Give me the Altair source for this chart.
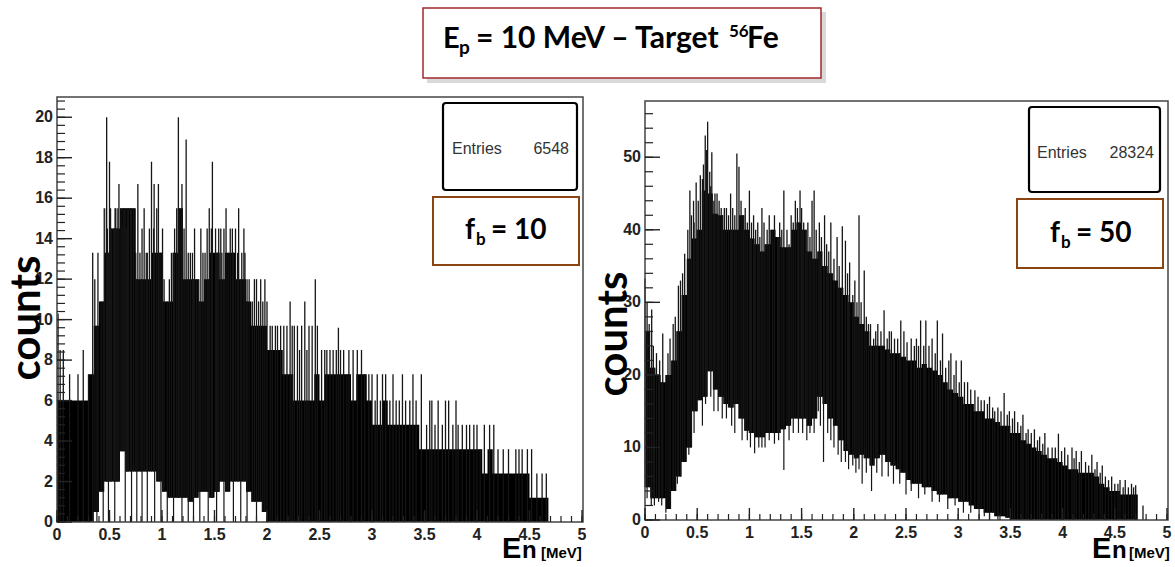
import altair as alt
import pandas as pd

# ---------------- data ----------------
BIN_E = [0.00, 0.05, 0.10, 0.15, 0.20, 0.25, 0.30, 0.35, 0.40, 0.45,
         0.50, 0.55, 0.60, 0.65, 0.70, 0.75, 0.80, 0.85, 0.90, 0.95,
         1.00, 1.05, 1.10, 1.15, 1.20, 1.25, 1.30, 1.35, 1.40, 1.45,
         1.50, 1.55, 1.60, 1.65, 1.70, 1.75, 1.80, 1.85, 1.90, 1.95,
         2.00, 2.05, 2.10, 2.15, 2.20, 2.25, 2.30, 2.35, 2.40, 2.45,
         2.50, 2.55, 2.60, 2.65, 2.70, 2.75, 2.80, 2.85, 2.90, 2.95,
         3.00, 3.05, 3.10, 3.15, 3.20, 3.25, 3.30, 3.35, 3.40, 3.45,
         3.50, 3.55, 3.60, 3.65, 3.70, 3.75, 3.80, 3.85, 3.90, 3.95,
         4.00, 4.05, 4.10, 4.15, 4.20, 4.25, 4.30, 4.35, 4.40, 4.45,
         4.50, 4.55, 4.60, 4.65, 4.70]

# Left panel (f_b = 10): upper / lower envelope of the histogram band
L_END = 4.68
L_HI = [6, 6, 6, 6, 6, 6, 7.3, 9.7, 10.9, 13.3,
        14.5, 14.5, 15.5, 15.5, 15.5, 12, 12, 12, 13.3, 13.3,
        10.9, 10.9, 13.3, 15.5, 12, 12, 12, 10.9, 12, 13.3,
        13.3, 12, 13.3, 13.3, 12, 12, 10.9, 9.7, 9.7, 9.7,
        8.5, 8.5, 8.5, 7.3, 7.3, 6, 6, 6, 6, 7.3,
        6, 7.3, 7.3, 7.3, 7.3, 7.3, 6, 7.3, 7.3, 6,
        4.8, 4.8, 6, 4.8, 4.8, 4.8, 4.8, 4.8, 4.8, 3.6,
        3.6, 3.6, 3.6, 3.6, 3.6, 3.6, 3.6, 3.6, 3.6, 3.6,
        3.6, 2.4, 3.6, 2.4, 2.4, 2.4, 2.4, 2.4, 2.4, 2.4,
        1.2, 1.2, 1.2, 1.2]
L_LO = [0, 0, 0, 0, 0, 0, 0, 0.5, 1.5, 2,
        2, 2, 3.5, 2.5, 2.5, 2.5, 2.5, 2.5, 2.5, 2,
        1.5, 1.2, 1.2, 1.2, 1.2, 1, 1.2, 1.5, 1.5, 1.2,
        1.5, 2, 1.5, 2, 2, 2, 1.5, 1, 1, 0.5,
        0, 0, 0, 0, 0, 0, 0, 0, 0, 0,
        0, 0, 0, 0, 0, 0, 0, 0, 0, 0,
        0, 0, 0, 0, 0, 0, 0, 0, 0, 0,
        0, 0, 0, 0, 0, 0, 0, 0, 0, 0,
        0, 0, 0, 0, 0, 0, 0, 0, 0, 0,
        0, 0, 0, 0]
# tallest single bins (spikes above the band)
L_SPIKE_E = [0.01, 0.03, 0.06, 0.12, 0.20, 0.25, 0.30, 0.34, 0.36, 0.39,
             0.42, 0.45, 0.473, 0.50, 0.52, 0.553, 0.59, 0.64, 0.68, 0.73,
             0.77, 0.83, 0.86, 0.90, 0.925, 0.966, 1.005, 1.09, 1.156, 1.19,
             1.23, 1.27, 1.33, 1.37, 1.43, 1.45, 1.48, 1.54, 1.57, 1.61,
             1.63, 1.70, 1.73, 1.79, 1.83, 1.90, 1.94, 1.98, 2.03, 2.08,
             2.13, 2.19, 2.22, 2.24, 2.29, 2.33, 2.36, 2.40, 2.46, 2.48,
             2.57, 2.63, 2.68, 2.70, 2.78, 2.90, 3.00, 3.05, 3.10, 3.20,
             3.26, 3.32, 3.47, 3.57, 3.63, 3.73, 3.82, 3.90, 4.00, 4.07,
             4.16, 4.37, 4.43, 4.48, 4.52, 4.57, 4.62, 4.66]
L_SPIKE_TOP = [10.3, 8.5, 8.5, 7.3, 7.3, 8.5, 7.3, 13.3, 12, 13.3,
               10.9, 15.5, 20, 17.8, 14.5, 15.5, 16.7, 15.5, 15.5, 15.5,
               16.7, 15.5, 13.3, 17.8, 16.7, 16.7, 14.5, 13.3, 20, 16.7,
               18.9, 13.3, 12, 14.5, 14.5, 15.5, 17.8, 14.5, 13.3, 15.5,
               13.3, 14.5, 15.5, 13.3, 12, 12, 12, 12, 9.7, 9.7,
               9.7, 9.7, 10.9, 9.7, 9.7, 9.7, 10.9, 9.7, 12, 9.7,
               8.5, 8.5, 9.6, 8.5, 8.5, 8.5, 7.3, 7.3, 7.3, 7.3,
               6, 6, 7.3, 6, 6, 6, 4.8, 4.8, 4.8, 4.8,
               4.8, 3.6, 3.6, 3.6, 3.6, 2.4, 2.4, 2.4]
# other bins standing just above the band (the ragged top edge)
L_EDGE_E = [0.47, 0.48, 0.51, 0.54, 0.56, 0.57, 0.58, 0.61, 0.62, 0.63,
            0.66, 0.67, 0.70, 0.71, 0.75, 0.79, 0.81, 0.85, 0.88, 0.92,
            0.95, 0.98, 1.02, 1.07, 1.12, 1.14, 1.17, 1.21, 1.25, 1.29,
            1.31, 1.35, 1.39, 1.41, 1.47, 1.51, 1.53, 1.56, 1.59, 1.65,
            1.67, 1.68, 1.72, 1.76, 1.78, 1.81, 1.86, 1.88, 1.92, 1.96,
            2.00, 2.05, 2.10, 2.16, 2.26, 2.31, 2.38, 2.43, 2.52, 2.55,
            2.60, 2.66, 2.73, 2.76, 2.82, 2.86, 2.93, 2.97, 3.03, 3.08,
            3.13, 3.17, 3.23, 3.29, 3.36, 3.39, 3.42, 3.52, 3.55, 3.60,
            3.67, 3.70, 3.77, 3.80, 3.86, 3.93, 3.97, 4.03, 4.12, 4.20,
            4.25, 4.30, 4.40]
L_EDGE_TOP = [15.5, 14.5, 15.5, 14.5, 15.5, 14.5, 15.5, 15.5, 14.5, 15.5,
              14.5, 15.5, 15.5, 14.5, 13.3, 13.3, 14.5, 13.3, 14.5, 14.5,
              15.5, 13.3, 12, 12, 14.5, 15.5, 15.5, 14.5, 13.3, 13.3,
              14.5, 12, 13.3, 13.3, 14.5, 14.5, 13.3, 14.5, 14.5, 14.5,
              14.5, 13.3, 13.3, 13.3, 14.5, 12, 10.9, 12, 10.9, 10.9,
              10.9, 9.7, 9.7, 9.7, 9.7, 8.5, 8.5, 9.7, 8.5, 8.5,
              8.5, 8.5, 8.5, 7.3, 8.5, 8.5, 7.3, 7.3, 6, 6,
              7.3, 6, 6, 7.3, 6, 7.3, 6, 4.8, 6, 4.8,
              4.8, 6, 4.8, 6, 4.8, 4.8, 4.8, 3.6, 4.8, 3.6,
              3.6, 3.6, 3.6]
# bins dropping below the band into the white gap
L_DIP_E = [0.38, 0.44, 0.49, 0.55, 0.65, 0.71, 0.76, 0.81, 0.86, 0.93,
           0.99, 1.05, 1.11, 1.19, 1.25, 1.30, 1.36, 1.44, 1.52, 1.59,
           1.68, 1.75, 1.81, 1.90]
L_DIP_BOT = [0, 0, 0, 0, 0, 0, 0, 0, 0, 0,
             0, 0, 0, 0, 0, 0, 0, 0, 0, 0,
             0, 0, 0, 0]

# Right panel (f_b = 50)
R_END = 4.72
R_HI = [26, 21, 20, 19, 20, 22, 26, 31, 36, 38.8,
        40, 45.4, 45, 42.2, 42, 40, 40, 40, 42, 40,
        38.8, 38, 37, 38, 40, 39, 37.6, 37.6, 40, 41,
        40, 37, 36, 37, 35, 34, 33, 32, 31, 30,
        28, 27, 26, 24, 24, 24, 23.5, 23, 23, 22.5,
        22, 22, 21, 21.5, 21, 20.6, 20, 19, 18, 17.5,
        17, 16, 16, 15, 15, 14, 14, 13.5, 13, 13,
        12, 12, 11, 10.5, 10, 9.5, 9, 8.5, 8.5, 8,
        7.5, 7, 7, 6.5, 6.5, 6.5, 6, 5, 4.5, 4,
        4, 3.5, 3.5, 3.5, 3.5]
R_LO = [4.5, 3, 3, 3, 1.5, 4, 6, 8, 10, 15,
        16.5, 17, 20.5, 18, 17, 16, 15.5, 16, 14, 12.3,
        12, 11.4, 11.4, 12, 12, 12, 12.5, 13, 14, 14,
        14, 13, 14, 17, 16, 14, 13, 11, 9.5, 9,
        8.5, 9, 8.5, 7.5, 8.5, 9, 8, 7.5, 7, 6.5,
        5.5, 5, 5, 4.5, 4.5, 4, 3.5, 3.5, 3, 3,
        2.5, 2.5, 2, 1.5, 1.5, 1, 1, 0.5, 0.5, 0.3,
        0, 0, 0, 0, 0, 0, 0, 0, 0, 0,
        0, 0, 0, 0, 0, 0, 0, 0, 0, 0,
        0, 0, 0, 0, 0]
R_SPIKE_E = [0.0, 0.064, 0.17, 0.27, 0.32, 0.38, 0.43, 0.465, 0.49, 0.53,
             0.577, 0.60, 0.64, 0.67, 0.71, 0.76, 0.78, 0.82, 0.88, 0.90,
             0.945, 1.0, 1.04, 1.12, 1.17, 1.22, 1.27, 1.33, 1.38, 1.42,
             1.46, 1.485, 1.52, 1.56, 1.60, 1.62, 1.67, 1.72, 1.78, 1.84,
             1.89, 1.92, 1.96, 2.01, 2.05, 2.10, 2.16, 2.19, 2.23, 2.29,
             2.36, 2.45, 2.48, 2.55, 2.60, 2.64, 2.69, 2.75, 2.80, 2.85,
             2.93, 2.98, 3.03, 3.09, 3.16, 3.25, 3.30, 3.35, 3.44, 3.49,
             3.54, 3.62, 3.67, 3.73, 3.78, 3.83, 3.96, 4.02, 4.09, 4.13,
             4.18, 4.28, 4.33, 4.38, 4.47, 4.55, 4.60, 4.70, 4.77]
R_SPIKE_TOP = [33.3, 29, 25.7, 27, 32.3, 36.7, 45.4, 44, 46.5, 47.5,
               53, 54.9, 50.7, 45, 44, 43, 43, 45, 50.5, 48.7,
               42, 45.4, 42, 43, 40, 40, 39, 45.4, 38, 41,
               43, 45.4, 41, 41, 44, 45.4, 41, 42, 41, 39,
               40.5, 38.5, 35.5, 33, 42, 34.4, 27, 25, 27, 28.9,
               26, 27.5, 26, 25, 25, 27.5, 27.5, 25, 27.5, 25.7,
               23, 22, 22, 19, 17.9, 16.5, 17, 15, 17.5, 15,
               15, 14.5, 12.5, 12.5, 11.5, 12, 11.9, 10, 10, 9.5,
               9.5, 9, 8, 7.5, 6, 5.5, 5.5, 4.8, 2]
R_EDGE_E = [0.02, 0.04, 0.08, 0.11, 0.14, 0.22, 0.24, 0.29, 0.34, 0.36,
            0.41, 0.445, 0.47, 0.51, 0.55, 0.56, 0.59, 0.62, 0.63, 0.66,
            0.69, 0.73, 0.74, 0.80, 0.84, 0.86, 0.92, 0.96, 0.98, 1.02,
            1.06, 1.08, 1.10, 1.14, 1.19, 1.24, 1.29, 1.31, 1.36, 1.40,
            1.44, 1.50, 1.54, 1.58, 1.64, 1.69, 1.74, 1.76, 1.81, 1.86,
            1.94, 1.99, 2.03, 2.07, 2.12, 2.14, 2.21, 2.26, 2.32, 2.34,
            2.39, 2.42, 2.51, 2.58, 2.62, 2.67, 2.72, 2.78, 2.83, 2.88,
            2.91, 2.96, 3.01, 3.06, 3.12, 3.19, 3.22, 3.28, 3.33, 3.38,
            3.41, 3.47, 3.52, 3.57, 3.60, 3.65, 3.70, 3.76, 3.81, 3.86,
            3.90, 3.93, 3.99, 4.05, 4.11, 4.16, 4.22, 4.25, 4.31, 4.36,
            4.41, 4.44, 4.50, 4.53, 4.58, 4.63, 4.66, 4.68]
R_EDGE_TOP = [30, 27, 24, 23, 22, 23, 25, 28, 33, 34,
              40, 42, 41, 44, 47, 49, 51, 48, 46, 44,
              45, 43, 42, 42, 43, 42, 44, 43, 41, 41,
              40, 41, 39, 41, 42, 42, 41, 40, 40, 42,
              44, 43, 40, 39, 40, 39, 38, 37, 36, 35,
              34, 31, 30, 30, 28, 27, 26, 26, 25, 26,
              25, 25, 24.5, 24, 24, 24, 24, 23, 22, 21,
              22, 20, 19, 19, 18, 17, 16.5, 16, 15.5, 15.5,
              15, 14.5, 14, 13.5, 13, 12, 12, 11, 10.5, 10,
              10, 10, 9.5, 9, 8.5, 8, 8, 7.5, 7, 6.5,
              6, 5.5, 5, 5, 4.5, 4.5, 5, 4.5]
R_DIP_E = [0.02, 0.06, 0.09, 0.13, 0.16, 0.20, 0.24, 0.27, 0.31, 0.34,
           0.42, 0.47, 0.50, 0.55, 0.58, 0.63, 0.66, 0.70, 0.74, 0.78,
           0.83, 0.86, 0.93, 0.98, 1.01, 1.05, 1.09, 1.12, 1.15, 1.19,
           1.24, 1.28, 1.33, 1.38, 1.42, 1.47, 1.51, 1.55, 1.58, 1.62,
           1.66, 1.68, 1.71, 1.75, 1.78, 1.81, 1.85, 1.88, 1.92, 1.95,
           1.99, 2.02, 2.05, 2.08, 2.12, 2.17, 2.22, 2.27, 2.33, 2.38,
           2.44, 2.50, 2.55, 2.62, 2.68, 2.75, 2.82, 2.90, 2.97, 3.05,
           3.12, 3.20, 3.25, 3.30, 3.38]
R_DIP_BOT = [3, 2, 2, 2.5, 2, 1, 3, 4, 5, 6,
             9, 12, 15, 13, 16, 17, 15, 15, 14, 14,
             13, 12, 11, 11, 10, 9.2, 10, 10, 10, 11,
             10.5, 11, 6.9, 11, 12, 12, 12, 11, 12, 12,
             15, 13, 8.0, 12, 11, 10, 9, 8, 8, 7,
             7.5, 6.5, 7, 5, 6.5, 4, 6.5, 6, 6, 5,
             5, 3.5, 4, 3, 3.5, 2.5, 2.5, 1.5, 2, 1,
             1, 0, 0.5, 0, 0]

X_MAJOR = [0, 0.5, 1, 1.5, 2, 2.5, 3, 3.5, 4, 4.5, 5]
X_LABELS = ["0", "0.5", "1", "1.5", "2", "2.5", "3", "3.5", "4", "4.5", "5"]
X_MINOR = [round(0.1 * i, 1) for i in range(51)]
L_Y_MAJOR = [0, 2, 4, 6, 8, 10, 12, 14, 16, 18, 20]
L_Y_LABELS = ["0", "2", "4", "6", "8", "10", "12", "14", "16", "18", "20"]
L_Y_MINOR = [round(0.4 * i, 1) for i in range(53)]
R_Y_MAJOR = [0, 10, 20, 30, 40, 50]
R_Y_LABELS = ["0", "10", "20", "30", "40", "50"]
R_Y_MINOR = [2 * i for i in range(29)]

ONE = pd.DataFrame({"k": [0]})
TICK_COLOR = "#222222"
LABEL_FONT = "Liberation Sans"


def lookup(grid, vals, e):
    if e >= grid[-1]:
        return 0.0
    idx = 0
    for i, g in enumerate(grid):
        if g <= e + 1e-9:
            idx = i
    return vals[idx]


def txt(s, x, y, size, font="Lato", weight="bold", color="black",
        align="left", baseline="alphabetic", angle=0):
    return alt.Chart(ONE).mark_text(
        text=s, font=font, fontSize=size, fontWeight=weight, color=color,
        align=align, baseline=baseline, angle=angle
    ).encode(x=alt.value(x), y=alt.value(y))


def box(x0, y0, x1, y1, stroke, sw, fill="white", radius=0, opacity=1.0):
    return alt.Chart(ONE).mark_rect(
        fill=fill, stroke=stroke, strokeWidth=sw, cornerRadius=radius,
        opacity=opacity
    ).encode(x=alt.value(x0), x2=alt.value(x1), y=alt.value(y0), y2=alt.value(y1))


def frame(x0, y0, x1, y1):
    return alt.Chart(ONE).mark_rect(
        fill="white", fillOpacity=0, stroke="#444444", strokeWidth=1.5
    ).encode(x=alt.value(x0), x2=alt.value(x1), y=alt.value(y0), y2=alt.value(y1))


def panel(E, HI, LO, sE, sT, dE, dB, xr, yr, ymax,
          ymaj, ylab, ymin, ylab_x, xlab_y):
    xs = alt.Scale(domain=[0, 5], range=xr, nice=False, zero=False)
    ys = alt.Scale(domain=[0, ymax], range=yr, nice=False, zero=False)
    X = lambda f: alt.X(f, scale=xs, axis=None)
    Y = lambda f: alt.Y(f, scale=ys, axis=None)
    x0, x1 = xr
    ybot, ytop = yr

    env = pd.DataFrame({"E": E, "hi": HI, "lo": LO})
    area = alt.Chart(env).mark_area(
        interpolate="step-after", color="black", opacity=1
    ).encode(x=X("E:Q"), y=Y("hi:Q"), y2="lo:Q")

    sp = pd.DataFrame({"E": sE, "top": sT,
                       "base": [lookup(E, LO, e) for e in sE]})
    spikes = alt.Chart(sp).mark_rule(color="#151515", strokeWidth=1.3).encode(
        x=X("E:Q"), y=Y("top:Q"), y2="base:Q")

    dp = pd.DataFrame({"E": dE, "bot": dB,
                       "base": [lookup(E, HI, e) for e in dE]})
    dips = alt.Chart(dp).mark_rule(color="#151515", strokeWidth=1.2).encode(
        x=X("E:Q"), y=Y("bot:Q"), y2="base:Q")

    xmaj = alt.Chart(pd.DataFrame({"v": X_MAJOR, "t": X_LABELS})).mark_rule(
        color=TICK_COLOR, strokeWidth=1.4
    ).encode(x=X("v:Q"), y=alt.value(ybot), y2=alt.value(ybot - 12))
    xmin = alt.Chart(pd.DataFrame({"v": X_MINOR})).mark_rule(
        color=TICK_COLOR, strokeWidth=1.2
    ).encode(x=X("v:Q"), y=alt.value(ybot), y2=alt.value(ybot - 6))
    xlab = alt.Chart(pd.DataFrame({"v": X_MAJOR, "t": X_LABELS})).mark_text(
        font=LABEL_FONT, fontSize=16, fontWeight="bold", color=TICK_COLOR,
        align="center", baseline="middle"
    ).encode(x=X("v:Q"), y=alt.value(xlab_y), text="t:N")

    ymj = alt.Chart(pd.DataFrame({"v": ymaj})).mark_rule(
        color=TICK_COLOR, strokeWidth=1.4
    ).encode(y=Y("v:Q"), x=alt.value(x0), x2=alt.value(x0 + 15))
    ymn = alt.Chart(pd.DataFrame({"v": ymin})).mark_rule(
        color=TICK_COLOR, strokeWidth=1.2
    ).encode(y=Y("v:Q"), x=alt.value(x0), x2=alt.value(x0 + 8))
    ylb = alt.Chart(pd.DataFrame({"v": ymaj, "t": ylab})).mark_text(
        font=LABEL_FONT, fontSize=16, fontWeight="bold", color=TICK_COLOR,
        align="right", baseline="middle"
    ).encode(y=Y("v:Q"), x=alt.value(ylab_x), text="t:N")

    fr = frame(x0, ytop, x1 + 1, ybot)
    return alt.layer(area, spikes, dips, fr, xmin, xmaj, ymn, ymj, xlab, ylb)


left = panel(BIN_E[:94] + [L_END], L_HI + [L_HI[-1]], L_LO + [L_LO[-1]],
             L_SPIKE_E + L_EDGE_E, L_SPIKE_TOP + L_EDGE_TOP,
             L_DIP_E, L_DIP_BOT,
             [57, 582], [522, 97], 21,
             L_Y_MAJOR, L_Y_LABELS, L_Y_MINOR, 53, 535)
right = panel(BIN_E + [R_END], R_HI + [R_HI[-1]], R_LO + [R_LO[-1]],
              R_SPIKE_E + R_EDGE_E, R_SPIKE_TOP + R_EDGE_TOP,
              R_DIP_E, R_DIP_BOT,
              [645, 1167], [520, 101], 57.75,
              R_Y_MAJOR, R_Y_LABELS, R_Y_MINOR, 641, 533)

deco = [
    # title box
    box(427, 12, 826, 83, "#cfcfcf", 0, fill="#cfcfcf", opacity=0.8),
    box(423, 8, 821, 78, "#A3282E", 1.5),
    txt("E", 443, 48, 29),
    txt("p", 459, 54, 19),
    txt("= 10 MeV \u2013 Target", 476, 48, 30),
    txt("56", 729, 37, 17),
    txt("Fe", 747, 48, 30),
    # left annotations
    box(443, 103, 577, 190, "black", 2.2, radius=3),
    txt("Entries", 452, 154, 16, font=LABEL_FONT, weight="normal", color="#333333"),
    txt("6548", 569, 154, 16, font=LABEL_FONT, weight="normal", color="#333333", align="right"),
    box(433, 197, 579, 265, "#8B4513", 2),
    txt("f", 465, 239, 28),
    txt("b", 476, 245, 17),
    txt("= 10", 491, 239, 28),
    txt("counts", 27, 318, 42, angle=270, align="center", baseline="middle"),
    txt("E", 502, 558, 29, font=LABEL_FONT),
    txt("n", 522, 558, 24, font=LABEL_FONT),
    txt("[MeV]", 541, 558, 15, font=LABEL_FONT),
    # right annotations
    box(1029, 107, 1160, 192, "black", 2.2, radius=3),
    txt("Entries", 1037, 158, 16, font=LABEL_FONT, weight="normal", color="#333333"),
    txt("28324", 1154, 158, 16, font=LABEL_FONT, weight="normal", color="#333333", align="right"),
    box(1017, 199, 1163, 268, "#8B4513", 2),
    txt("f", 1050, 242, 28),
    txt("b", 1061, 248, 17),
    txt("= 50", 1076, 242, 28),
    txt("counts", 614, 334, 42, angle=270, align="center", baseline="middle"),
    txt("E", 1092, 558, 29, font=LABEL_FONT),
    txt("n", 1112, 558, 24, font=LABEL_FONT),
    txt("[MeV]", 1129, 558, 15, font=LABEL_FONT),
]

chart = alt.layer(left, right, *deco).resolve_scale(
    x="independent", y="independent"
).properties(
    width=1175, height=567,
    autosize=alt.AutoSizeParams(type="none"),
    padding=0, background="white"
).configure_view(strokeOpacity=0)

chart.save("out.html", embed_options={"renderer": "svg", "actions": False})
